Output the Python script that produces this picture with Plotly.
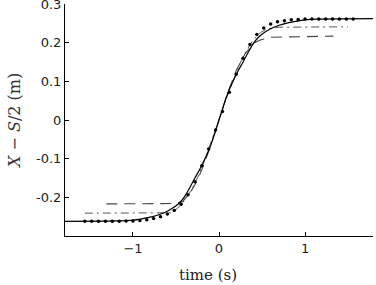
import plotly.graph_objects as go

# ---- data ----
solid_x = [-1.79, -1.2, -1.0, -0.8, -0.7, -0.6, -0.5, -0.45, -0.4, -0.34, -0.28, -0.22, -0.15, -0.1, -0.05, 0.0,
           0.05, 0.1, 0.15, 0.22, 0.28, 0.34, 0.4, 0.45, 0.5, 0.6, 0.7, 0.8, 1.0, 1.2, 1.79]
solid_y = [-0.262, -0.261, -0.259, -0.251, -0.245, -0.236, -0.222, -0.212, -0.198, -0.175, -0.150, -0.126, -0.094, -0.068, -0.035, 0.0,
           0.035, 0.068, 0.094, 0.126, 0.150, 0.175, 0.198, 0.212, 0.222, 0.236, 0.245, 0.251, 0.259, 0.261, 0.262]

dot_x = [-1.56, -1.48, -1.40, -1.32, -1.24, -1.16, -1.08, -1.00, -0.92, -0.84, -0.76, -0.68, -0.60, -0.52,
         -0.44, -0.36, -0.28, -0.20, -0.12, -0.04, 0.04, 0.12, 0.20, 0.28, 0.36, 0.44, 0.52, 0.60, 0.68,
         0.76, 0.84, 0.92, 1.00, 1.08, 1.16, 1.24, 1.32, 1.40, 1.48, 1.56]
dot_y = [-0.262, -0.262, -0.262, -0.262, -0.262, -0.262, -0.261, -0.261, -0.260, -0.258, -0.255, -0.250, -0.243, -0.234,
         -0.218, -0.193, -0.160, -0.118, -0.075, -0.026, 0.022, 0.072, 0.118, 0.160, 0.195, 0.221, 0.238, 0.248, 0.254,
         0.257, 0.259, 0.260, 0.261, 0.261, 0.261, 0.261, 0.261, 0.261, 0.261, 0.261]

dash_x = [-1.31, -0.50, -0.42, -0.34, -0.26, -0.18, -0.10, 0.0, 0.10, 0.20, 0.30, 0.40, 0.48, 0.60, 1.33]
dash_y = [-0.217, -0.216, -0.210, -0.190, -0.160, -0.118, -0.068, 0.0, 0.070, 0.128, 0.170, 0.198, 0.207, 0.214, 0.217]

dashdot_x = [-1.56, -0.56, -0.48, -0.40, -0.32, -0.24, -0.16, -0.08, 0.0, 0.08, 0.16, 0.24, 0.32, 0.40, 0.48, 0.56, 0.70, 1.50]
dashdot_y = [-0.241, -0.240, -0.228, -0.208, -0.180, -0.145, -0.100, -0.052, 0.0, 0.052, 0.100, 0.145, 0.180, 0.208, 0.226, 0.236, 0.240, 0.241]

x_ticks = [-1, 0, 1]
x_ticktext = ["\u22121", "0", "1"]
y_ticks = [-0.2, -0.1, 0, 0.1, 0.2, 0.3]
y_ticktext = ["-0.2", "-0.1", "0", "0.1", "0.2", "0.3"]

fig = go.Figure()
fig.add_trace(go.Scatter(x=dash_x, y=dash_y, mode="lines",
                         line=dict(color="#444444", width=1.1, dash="11px,7px"), showlegend=False))
fig.add_trace(go.Scatter(x=dashdot_x, y=dashdot_y, mode="lines",
                         line=dict(color="#555555", width=1.0, dash="8px,4px,2px,4px"), showlegend=False))
fig.add_trace(go.Scatter(x=solid_x, y=solid_y, mode="lines", line_shape="spline",
                         line=dict(color="black", width=1.2), showlegend=False))
fig.add_trace(go.Scatter(x=dot_x, y=dot_y, mode="markers",
                         marker=dict(color="black", size=3.5), showlegend=False))

fig.update_layout(
    width=376, height=285,
    margin=dict(l=65, r=3, t=4, b=49),
    paper_bgcolor="white", plot_bgcolor="white",
    font=dict(family="DejaVu Sans", size=13, color="#222222"),
    xaxis=dict(range=[-1.79, 1.79], tickvals=x_ticks, ticktext=x_ticktext,
               showline=True, linecolor="black", linewidth=1, ticks="inside", ticklen=4,
               tickcolor="black", showgrid=False, zeroline=False, ticklabeloverflow="allow",
               automargin=False),
    yaxis=dict(range=[-0.3, 0.3], tickvals=y_ticks, ticktext=y_ticktext,
               showline=True, linecolor="black", linewidth=1, ticks="inside", ticklen=4,
               tickcolor="black", showgrid=False, zeroline=False, ticklabeloverflow="allow",
               automargin=False),
    annotations=[
        dict(text="time (s)", xref="paper", yref="paper", x=0.464, y=-0.168,
             xanchor="center", yanchor="middle", showarrow=False,
             font=dict(family="DejaVu Serif", size=15, color="#222222")),
        dict(text="<i>X</i> \u2212 <i>S</i>/2 (m)", xref="paper", yref="paper", x=-0.162, y=0.496,
             xanchor="center", yanchor="middle", showarrow=False, textangle=-90,
             font=dict(family="DejaVu Serif", size=16, color="#333333")),
    ],
)

fig.write_html("out.html")
